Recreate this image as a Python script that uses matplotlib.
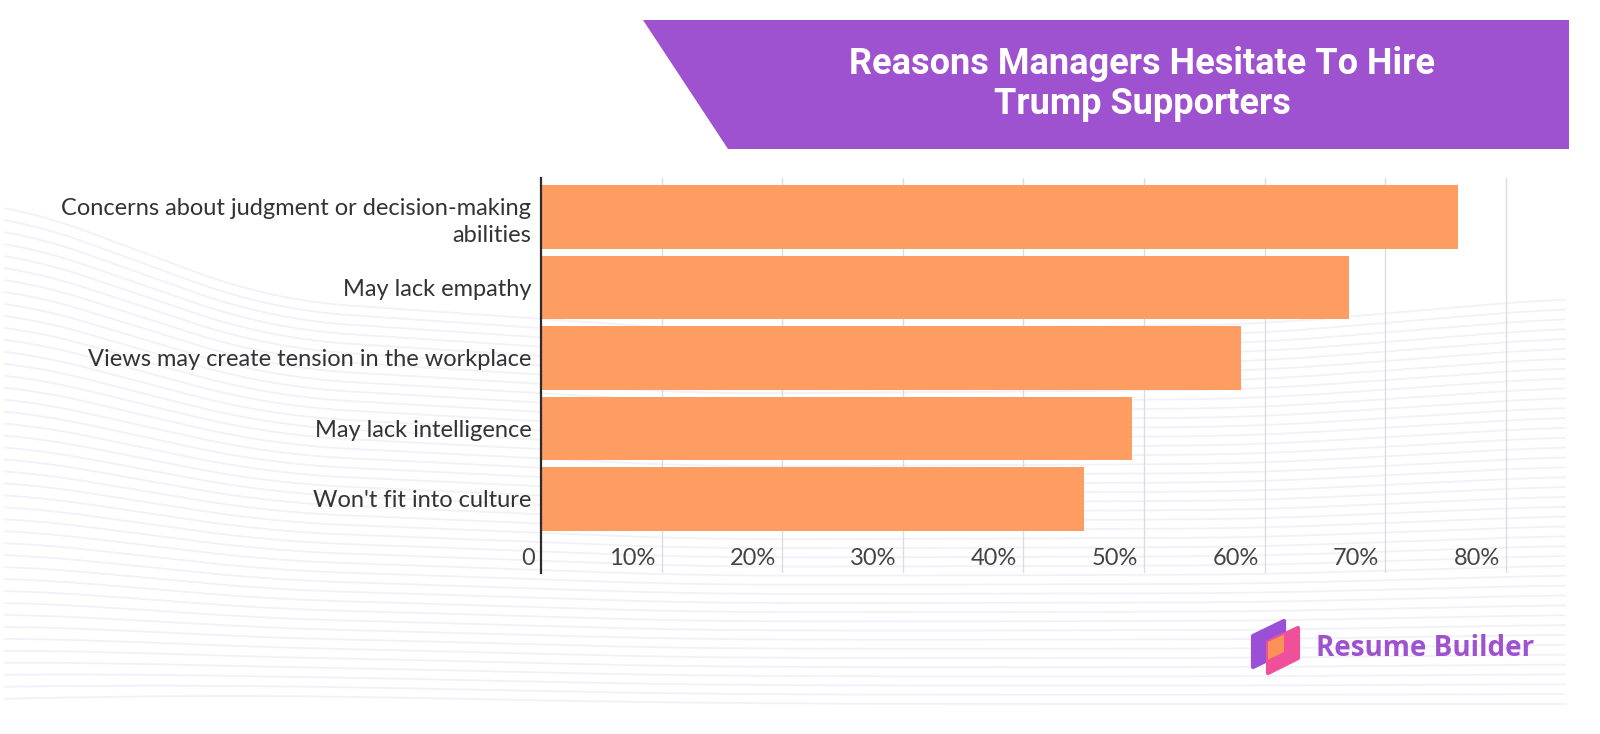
import numpy as np
import matplotlib
matplotlib.use('Agg')
import matplotlib.pyplot as plt
import matplotlib.transforms as mtransforms
from matplotlib.patches import Polygon

# data
reasons = ['Concerns about judgment or decision-making\nabilities',
           'May lack empathy',
           'Views may create tension in the workplace',
           'May lack intelligence',
           "Won't fit into culture"]
shares = [76, 67, 58, 49, 45]
xticks = [0, 10, 20, 30, 40, 50, 60, 70, 80]
xtick_labels = ['0', '10%', '20%', '30%', '40%', '50%', '60%', '70%', '80%']
title = 'Reasons Managers Hesitate To Hire\nTrump Supporters'
brand = 'Resume Builder'

bar_color = '#FE9D61'
purple = '#9E52D0'
label_font = 'Lato'

W, H = 1600, 734
fig = plt.figure(figsize=(W / 100, H / 100), dpi=100)
fig.patch.set_facecolor('white')

# background layer in pixel coords
bg = fig.add_axes([0, 0, 1, 1], zorder=0)
bg.set_xlim(0, W)
bg.set_ylim(H, 0)
bg.axis('off')

# faint wavy lines
xs = np.linspace(5, 1565, 400)
top = np.interp(xs, [0, 270, 700, 1250, 1600], [199, 300, 330, 325, 295])
k = np.ones(41) / 41
top = np.convolve(np.pad(top, 20, mode='edge'), k, mode='valid')
bottom = 704 - 8 * np.exp(-((xs - 230) / 350) ** 2)
for t in np.linspace(0, 1, 42):
    bg.plot(xs, top + t * (bottom - top), color='#F2F0FA', lw=1.3,
            solid_capstyle='round', zorder=1)

# title banner
banner = Polygon([(643, 20), (1569, 20), (1569, 149), (728, 149)],
                 closed=True, facecolor=purple, edgecolor='none', zorder=3)
bg.add_patch(banner)
bg.text(1142, 84, title, color='white', fontsize=26, fontweight='bold',
        family='Roboto', ha='center', va='center', linespacing=1.12,
        zorder=4)

# logo
p1 = Polygon([(1253, 636), (1284, 621), (1284, 652), (1253, 667)],
             closed=True, facecolor='#9B4FD6', edgecolor='#9B4FD6', lw=3,
             joinstyle='round', zorder=3)
p2 = Polygon([(1268, 642), (1298, 628), (1298, 658), (1268, 673)],
             closed=True, facecolor='#F0509A', edgecolor='#F0509A', lw=3,
             joinstyle='round', zorder=4)
p3 = Polygon([(1268, 642), (1298, 628), (1298, 658), (1268, 673)],
             closed=True, facecolor='#FA9257', edgecolor='none', zorder=5)
bg.add_patch(p1)
bg.add_patch(p2)
bg.add_patch(p3)
p3.set_clip_path(p1)
bg.text(1316, 648, brand, color=purple, fontsize=20, fontweight='bold',
        family='Open Sans', ha='left', va='center', zorder=4)

# main chart
ax = fig.add_axes([541 / W, 1 - 573 / H, (1530 - 541) / W, (573 - 178) / H],
                  zorder=1)
ax.patch.set_alpha(0)
ypos = np.arange(len(reasons))
ax.barh(ypos, shares, height=0.9, color=bar_color, zorder=2)
ax.set_xlim(0, 82)
ax.set_ylim(5.05, -0.55)

ax.set_xticks(xticks[1:])
ax.xaxis.grid(True, color='#DCDCE0', lw=1)
ax.set_axisbelow(True)
ax.tick_params(axis='x', length=0, labelbottom=False)
ax.set_yticks(ypos)
ax.set_yticklabels(reasons, fontsize=17, color='#333333', family=label_font,
                   linespacing=1.35)
ax.tick_params(axis='y', length=0, pad=7)

for s in ['top', 'right', 'bottom']:
    ax.spines[s].set_visible(False)
ax.spines['left'].set_color('#2b2b2b')
ax.spines['left'].set_linewidth(1.6)
ax.spines['left'].set_zorder(3)

off = mtransforms.offset_copy(ax.transData, fig=fig, x=-6, y=0, units='dots')
for xv, lab in zip(xticks, xtick_labels):
    ax.text(xv, 4.85, lab, transform=off, ha='right', va='center',
            fontsize=17, color='#444444', family=label_font)

fig.savefig('out.png', dpi=100)
